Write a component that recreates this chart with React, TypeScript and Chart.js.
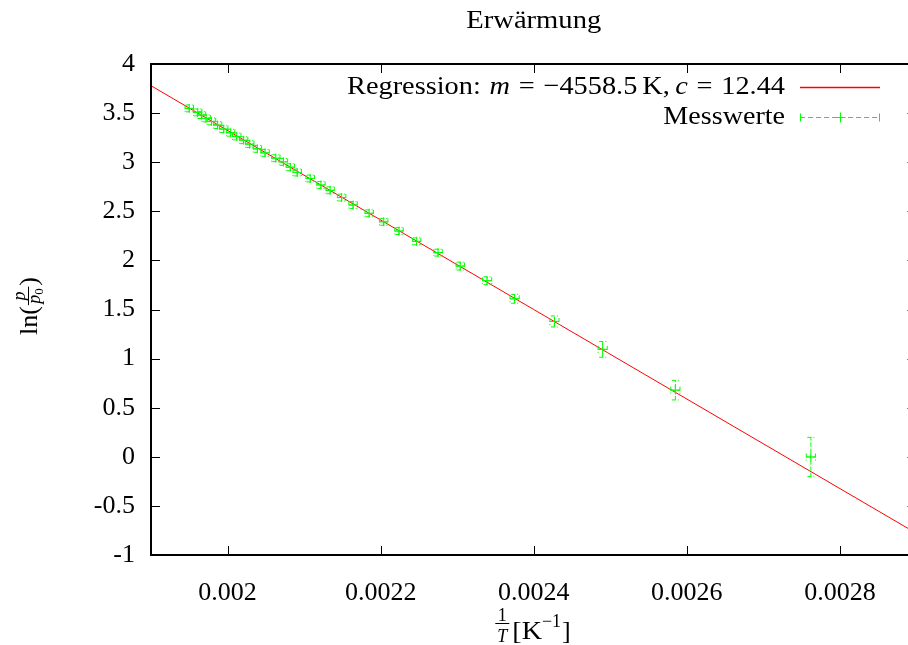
import { useEffect, useRef } from "react";
import { Chart, registerables } from "chart.js";

Chart.register(...registerables);

// ---- data ----
const chartTitle = "Erwärmung";
const slopeM = -4558.5;
const interceptC = 12.44;
const xRange = [0.0019, 0.0029];
const yRange = [-1, 4];
const xTicks = [0.002, 0.0022, 0.0024, 0.0026, 0.0028];
const xTickLabels = ["0.002", "0.0022", "0.0024", "0.0026", "0.0028"];
const yTicks = [4, 3.5, 3, 2.5, 2, 1.5, 1, 0.5, 0, -0.5, -1];
const yTickLabels = ["4", "3.5", "3", "2.5", "2", "1.5", "1", "0.5", "0", "-0.5", "-1"];

const invT = [
  0.00195, 0.001961, 0.001966, 0.001972, 0.001979, 0.001987, 0.001995, 0.002004,
  0.002012, 0.002021, 0.002029, 0.002039, 0.002049, 0.002063, 0.002073, 0.002082,
  0.002091, 0.002108, 0.002122, 0.002134, 0.002149, 0.002164, 0.002185, 0.002204,
  0.002224, 0.002247, 0.002275, 0.002304, 0.002339, 0.002375, 0.002427, 0.00249,
  0.002585, 0.002762,
];
const lnP = [
  3.548, 3.507, 3.48, 3.446, 3.416, 3.378, 3.337, 3.3,
  3.262, 3.224, 3.184, 3.136, 3.095, 3.041, 3.003, 2.949,
  2.895, 2.834, 2.768, 2.714, 2.64, 2.564, 2.48, 2.393,
  2.299, 2.194, 2.079, 1.942, 1.793, 1.609, 1.378, 1.094,
  0.679, -0.002,
];
const invTErr = [
  5.5e-6, 5.5e-6, 5.5e-6, 5.5e-6, 5.5e-6, 5.5e-6, 5.5e-6, 5.5e-6,
  5.5e-6, 5.5e-6, 5.5e-6, 5.5e-6, 5.5e-6, 5.5e-6, 5.5e-6, 5.5e-6,
  5.5e-6, 5.5e-6, 5.5e-6, 5.5e-6, 5.5e-6, 5.5e-6, 5.5e-6, 5.5e-6,
  5.5e-6, 5.5e-6, 5.5e-6, 5.5e-6, 6e-6, 6e-6, 6e-6, 6e-6,
  6e-6, 6e-6,
];
const lnPErr = [
  0.035, 0.035, 0.035, 0.035, 0.035, 0.035, 0.035, 0.035,
  0.035, 0.035, 0.035, 0.035, 0.035, 0.035, 0.035, 0.035,
  0.035, 0.035, 0.035, 0.035, 0.035, 0.035, 0.035, 0.035,
  0.035, 0.035, 0.035, 0.04, 0.04, 0.045, 0.056, 0.08,
  0.1, 0.2,
];

const legendRegression = ["Regression:", "m", "=", "−4558.5", "K,", "c", "=", "12.44"];
const legendMess = "Messwerte";

// ---- styles ----
const FONT = "'Liberation Serif', 'Times New Roman', serif";
const GREEN = "#00ff00";
const RED = "#ff0000";
const TEXT_STRETCH = 1.08;
const fnt = (size: number, italic = false) => `${italic ? "italic " : ""}${size}px ${FONT}`;

function fillStretched(ctx: CanvasRenderingContext2D, text: string, x: number, y: number, align: "left" | "right" | "center", k: number) {
  const w = ctx.measureText(text).width * k;
  const x0 = align === "left" ? x : align === "right" ? x - w : x - w / 2;
  ctx.save();
  ctx.translate(x0, y);
  ctx.scale(k, 1);
  ctx.textAlign = "left";
  ctx.fillText(text, 0, 0);
  ctx.restore();
}

const decor = {
  id: "gnuplotDecor",
  afterDatasetsDraw(chart: any) {
    const { ctx, chartArea, scales } = chart;
    const xs = scales.x;
    const ys = scales.y;
    const CAP = 3.5;
    ctx.save();
    ctx.beginPath();
    ctx.rect(chartArea.left, chartArea.top, chartArea.right - chartArea.left, chartArea.bottom - chartArea.top);
    ctx.clip();
    ctx.strokeStyle = GREEN;
    ctx.lineWidth = 1;
    ctx.setLineDash([4, 2]);
    for (let i = 0; i < invT.length; i++) {
      const px = xs.getPixelForValue(invT[i]);
      const py = ys.getPixelForValue(lnP[i]);
      const x0 = xs.getPixelForValue(invT[i] - invTErr[i]);
      const x1 = xs.getPixelForValue(invT[i] + invTErr[i]);
      const y0 = ys.getPixelForValue(lnP[i] - lnPErr[i]);
      const y1 = ys.getPixelForValue(lnP[i] + lnPErr[i]);
      ctx.beginPath();
      ctx.moveTo(x0, py); ctx.lineTo(x1, py);
      ctx.moveTo(px, y0); ctx.lineTo(px, y1);
      ctx.moveTo(x0, py - CAP); ctx.lineTo(x0, py + CAP);
      ctx.moveTo(x1, py - CAP); ctx.lineTo(x1, py + CAP);
      ctx.moveTo(px - CAP, y0); ctx.lineTo(px + CAP, y0);
      ctx.moveTo(px - CAP, y1); ctx.lineTo(px + CAP, y1);
      ctx.stroke();
    }
    ctx.restore();
  },
  afterDraw(chart: any) {
    const { ctx, chartArea, scales } = chart;
    const { left, top, right, bottom } = chartArea;
    const xs = scales.x;
    const ys = scales.y;
    ctx.save();
    // inward ticks (all four sides)
    ctx.strokeStyle = "#000";
    ctx.lineWidth = 1;
    ctx.setLineDash([]);
    const TL = 9;
    ctx.beginPath();
    xTicks.forEach((v) => {
      const px = Math.round(xs.getPixelForValue(v)) + 0.5;
      ctx.moveTo(px, bottom); ctx.lineTo(px, bottom - TL);
      ctx.moveTo(px, top); ctx.lineTo(px, top + TL);
    });
    yTicks.forEach((v) => {
      const py = Math.round(ys.getPixelForValue(v)) + 0.5;
      ctx.moveTo(left, py); ctx.lineTo(left + TL, py);
      ctx.moveTo(right, py); ctx.lineTo(right - TL, py);
    });
    ctx.stroke();
    // border
    ctx.lineWidth = 2;
    ctx.strokeRect(left, top, right - left, bottom - top);

    ctx.fillStyle = "#000";
    ctx.textBaseline = "alphabetic";
    // title
    const cx = (left + right) / 2;
    ctx.font = fnt(26);
    fillStretched(ctx, chartTitle, cx, 28, "center", 1.1);

    // legend
    const textRight = 785;
    const legendWidth = 438;
    const sampleL = 800;
    const sampleR = 880;
    const row1 = 87;
    const row2 = 117;
    const segs: { t: string; it: boolean; gapBefore: number }[] = [
      { t: legendRegression[0], it: false, gapBefore: 0 },
      { t: legendRegression[1], it: true, gapBefore: 8 },
      { t: legendRegression[2], it: false, gapBefore: 8 },
      { t: legendRegression[3], it: false, gapBefore: 8 },
      { t: legendRegression[4], it: false, gapBefore: 4.5 },
      { t: legendRegression[5], it: true, gapBefore: 5 },
      { t: legendRegression[6], it: false, gapBefore: 8 },
      { t: legendRegression[7], it: false, gapBefore: 8 },
    ];
    let total = 0;
    const widths = segs.map((s) => {
      ctx.font = fnt(26, s.it);
      const w = ctx.measureText(s.t).width;
      total += w + s.gapBefore;
      return w;
    });
    const k = legendWidth / total;
    ctx.save();
    ctx.translate(textRight - legendWidth, row1 + 7);
    ctx.scale(k, 1);
    ctx.textAlign = "left";
    let x = 0;
    segs.forEach((s, i) => {
      x += s.gapBefore;
      ctx.font = fnt(26, s.it);
      ctx.fillText(s.t, x, 0);
      x += widths[i];
    });
    ctx.restore();
    ctx.font = fnt(26);
    fillStretched(ctx, legendMess, textRight, row2 + 7, "right", TEXT_STRETCH);

    ctx.strokeStyle = RED;
    ctx.lineWidth = 1.3;
    ctx.beginPath();
    ctx.moveTo(sampleL, row1 + 0.5); ctx.lineTo(sampleR, row1 + 0.5);
    ctx.stroke();

    ctx.strokeStyle = GREEN;
    ctx.lineWidth = 1;
    ctx.setLineDash([5, 3]);
    ctx.beginPath();
    ctx.moveTo(sampleL, row2 + 0.5); ctx.lineTo(sampleR, row2 + 0.5);
    ctx.stroke();
    ctx.setLineDash([]);
    ctx.beginPath();
    ctx.moveTo(sampleL + 0.5, row2 - 3.5); ctx.lineTo(sampleL + 0.5, row2 + 4.5);
    ctx.moveTo(sampleR - 0.5, row2 - 3.5); ctx.lineTo(sampleR - 0.5, row2 + 4.5);
    const mx = (sampleL + sampleR) / 2 + 0.5;
    ctx.moveTo(mx - 5, row2 + 0.5); ctx.lineTo(mx + 5, row2 + 0.5);
    ctx.moveTo(mx, row2 - 4.5); ctx.lineTo(mx, row2 + 5.5);
    ctx.stroke();

    // x axis title: 1/T [K^-1]
    ctx.fillStyle = "#000";
    ctx.font = fnt(26);
    const wBr = ctx.measureText("[K").width * TEXT_STRETCH;
    const wBr2 = ctx.measureText("]").width;
    ctx.font = fnt(18);
    const wSup = ctx.measureText("−1").width;
    ctx.font = fnt(18, true);
    const wFrac = ctx.measureText("T").width + 4;
    const gap = 3;
    const xt = wFrac + gap + wBr + wSup + 1 + wBr2;
    let sx = 533 - xt / 2;
    const fcx = sx + wFrac / 2;
    ctx.textAlign = "center";
    ctx.font = fnt(18);
    ctx.fillText("1", fcx, 621);
    ctx.font = fnt(18, true);
    ctx.fillText("T", fcx, 642);
    ctx.fillRect(sx, 623, wFrac, 1);
    sx += wFrac + gap;
    ctx.font = fnt(26);
    fillStretched(ctx, "[K", sx, 639, "left", TEXT_STRETCH);
    sx += wBr;
    ctx.font = fnt(18);
    ctx.textAlign = "left";
    ctx.fillText("−1", sx, 627);
    sx += wSup + 1;
    ctx.font = fnt(26);
    ctx.fillText("]", sx, 639);

    // y axis title: ln(p/p0), rotated
    ctx.save();
    ctx.translate(37, 306);
    ctx.rotate(-Math.PI / 2);
    ctx.font = fnt(26);
    const wLn = ctx.measureText("ln(").width;
    const wRp = ctx.measureText(")").width;
    ctx.font = fnt(18, true);
    const wp = ctx.measureText("p").width;
    ctx.font = fnt(13);
    const w0 = ctx.measureText("0").width;
    const wF = wp + w0 + 3;
    const yt = wLn + 1 + wF + 1 + wRp;
    let lx = -yt / 2;
    ctx.textAlign = "left";
    ctx.font = fnt(26);
    ctx.fillText("ln(", lx, 0);
    lx += wLn + 1;
    ctx.font = fnt(18, true);
    ctx.textAlign = "center";
    ctx.fillText("p", lx + wF / 2, -12);
    ctx.fillRect(lx, -9, wF, 1);
    ctx.textAlign = "left";
    const denX = lx + (wF - wp - w0) / 2;
    ctx.fillText("p", denX, 3);
    ctx.font = fnt(13);
    ctx.fillText("0", denX + wp, 6);
    lx += wF + 1;
    ctx.font = fnt(26);
    ctx.fillText(")", lx, 0);
    ctx.restore();

    ctx.restore();
  },
};

export default function App() {
  const ref = useRef<HTMLCanvasElement>(null);
  useEffect(() => {
    const canvas = ref.current;
    if (!canvas) return;
    const messData = invT.map((x, i) => ({ x, y: lnP[i] }));
    const regData = xRange.map((x) => ({ x, y: slopeM * x + interceptC }));
    const chart = new Chart(canvas, {
      type: "scatter",
      data: {
        datasets: [
          {
            label: legendMess,
            data: messData,
            pointStyle: "cross",
            pointRadius: 4.5,
            pointBorderWidth: 1,
            borderColor: GREEN,
            backgroundColor: GREEN,
            showLine: false,
          } as any,
          {
            label: "Regression",
            data: regData,
            showLine: true,
            borderColor: RED,
            backgroundColor: RED,
            borderWidth: 1,
            pointRadius: 0,
            fill: false,
            tension: 0,
          } as any,
        ],
      },
      options: {
        responsive: false,
        animation: false,
        devicePixelRatio: 1,
        layout: { padding: { top: 64, right: 5, left: 0, bottom: 0 } },
        plugins: {
          legend: { display: false },
          title: { display: false },
          tooltip: { enabled: false },
        },
        scales: {
          x: {
            type: "linear",
            position: "bottom",
            min: xRange[0],
            max: xRange[1],
            grid: { display: false, drawTicks: false },
            border: { display: false },
            afterBuildTicks: (s: any) => {
              s.ticks = xTicks.map((v) => ({ value: v }));
            },
            afterFit: (s: any) => {
              s.height = 90;
            },
            ticks: {
              padding: 23,
              color: "#000",
              font: { family: FONT, size: 26 },
              maxRotation: 0,
              autoSkip: false,
              callback: (v: any) => {
                const i = xTicks.findIndex((t) => Math.abs(t - Number(v)) < 1e-9);
                return i >= 0 ? xTickLabels[i] : "";
              },
            },
          },
          y: {
            type: "linear",
            min: yRange[0],
            max: yRange[1],
            grid: { display: false, drawTicks: false },
            border: { display: false },
            afterBuildTicks: (s: any) => {
              s.ticks = yTicks.map((v) => ({ value: v }));
            },
            afterFit: (s: any) => {
              s.width = 151;
            },
            ticks: {
              padding: 16,
              color: "#000",
              font: { family: FONT, size: 26 },
              autoSkip: false,
              callback: (v: any) => {
                const i = yTicks.findIndex((t) => Math.abs(t - Number(v)) < 1e-9);
                return i >= 0 ? yTickLabels[i] : "";
              },
            },
          },
        },
      } as any,
      plugins: [decor],
    });
    return () => chart.destroy();
  }, []);
  return (
    <div style={{ position: "fixed", left: 0, top: 0, width: 908, height: 645, overflow: "hidden", background: "#fff" }}>
      <canvas ref={ref} width={922} height={645} style={{ display: "block" }} />
    </div>
  );
}
